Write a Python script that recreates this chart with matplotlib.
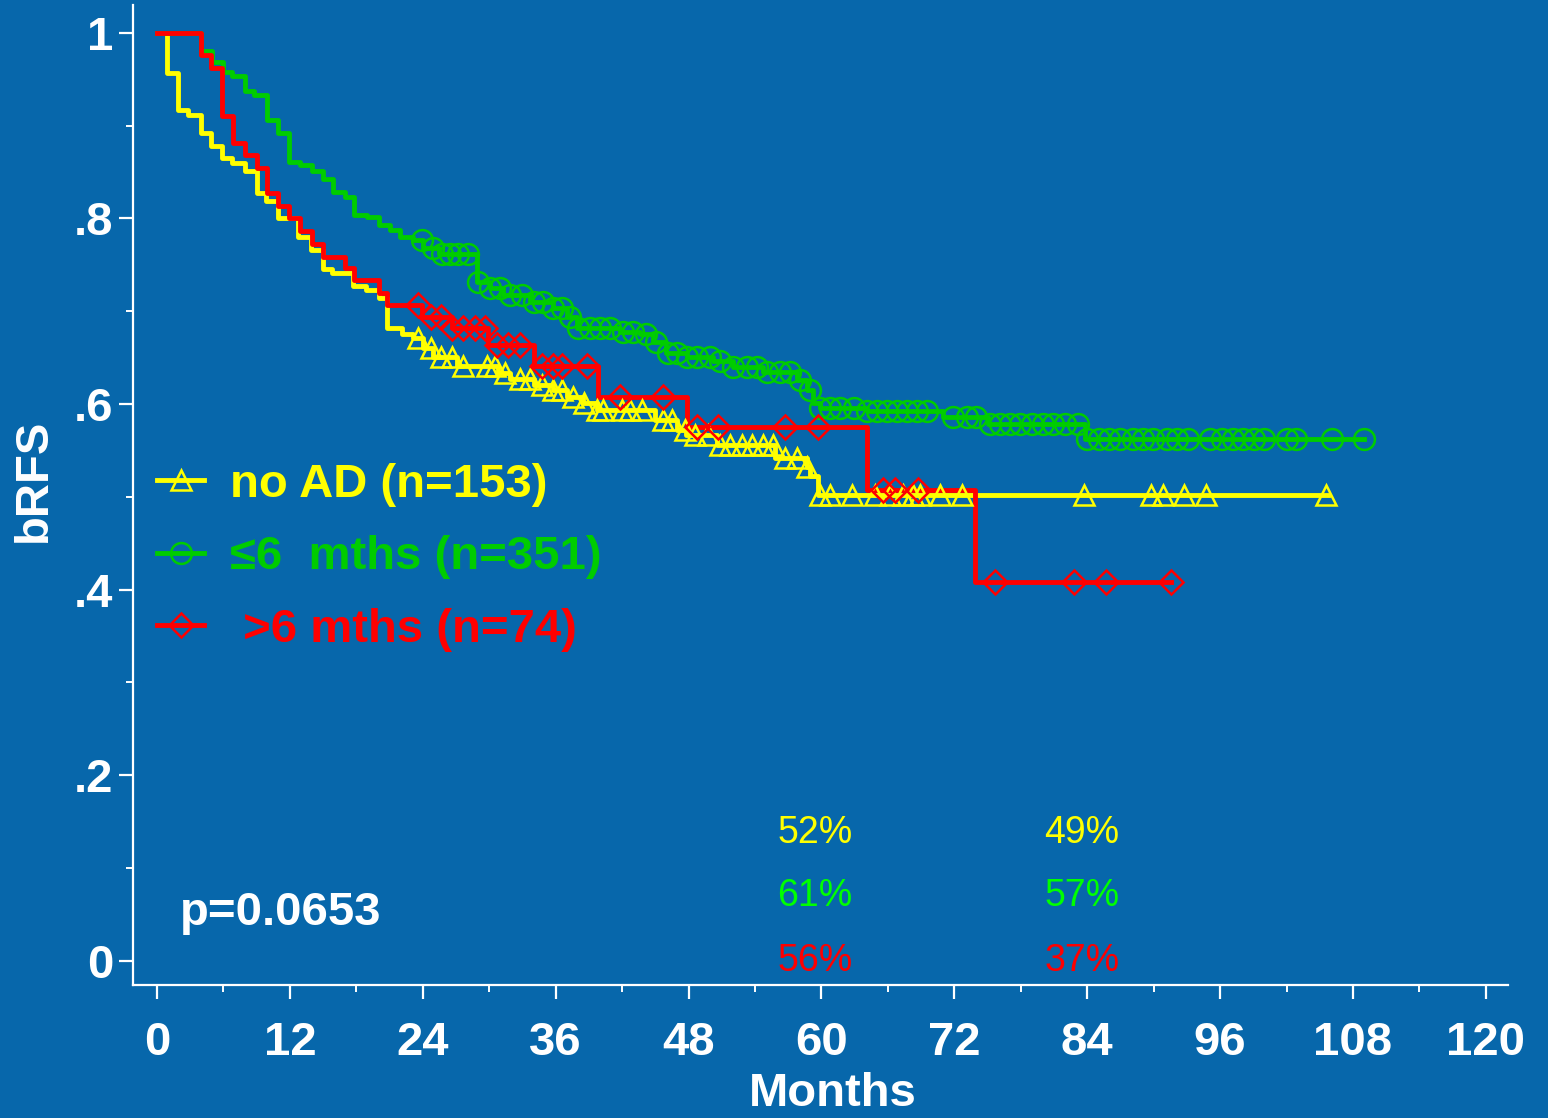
import numpy as np
import matplotlib
matplotlib.use('Agg')
import matplotlib.pyplot as plt
from matplotlib.lines import Line2D
from matplotlib.ticker import FixedLocator

plt.rcParams['font.family'] = ['Liberation Sans', 'DejaVu Sans']

BG = '#0767AB'
YEL = '#FFFF00'
GRN = '#00CC00'
RED = '#FF0000'
WHITE = '#FFFFFF'

# ---------------- data (months, survival) ----------------
# no AD (n=153)
noad_t = [0.9, 1.9, 2.8, 4.0, 4.9, 5.9, 6.8, 7.9, 9.0, 9.8, 10.9, 12.7, 13.9, 15.0, 15.8,
          17.7, 18.9, 20.0, 20.8, 22.1, 23.1, 24.0, 24.9, 27.1, 30.8, 31.9, 34.0, 35.8,
          37.0, 38.5, 39.7, 45.0, 47.0, 47.8, 50.6, 55.8, 58.7, 59.0, 59.7]
noad_s = [0.957, 0.917, 0.912, 0.892, 0.878, 0.865, 0.860, 0.851, 0.827, 0.819, 0.800,
          0.780, 0.766, 0.745, 0.741, 0.727, 0.723, 0.714, 0.682, 0.675, 0.671, 0.660,
          0.651, 0.641, 0.634, 0.627, 0.621, 0.615, 0.608, 0.601, 0.594, 0.583, 0.572,
          0.567, 0.556, 0.542, 0.532, 0.522, 0.502]
noad_end = 105.7
noad_cens = [23.6, 24.7, 25.6, 26.6, 27.6, 29.8, 30.5, 31.4, 32.8, 33.7, 34.8, 35.8, 36.6,
             37.6, 38.6, 39.7, 40.3, 42.0, 42.7, 43.8, 45.7, 46.5, 47.7, 48.6, 49.8, 50.8,
             51.7, 52.8, 53.7, 54.7, 55.6, 56.7, 57.8, 58.7, 59.9, 60.8, 62.8, 64.8, 66.2,
             67.4, 68.3, 68.9, 70.7, 72.7, 83.7, 89.8, 90.8, 92.7, 94.7, 105.6]

# <=6 mths (n=351)
le6_t = [4.0, 5.0, 6.0, 6.8, 7.9, 8.8, 9.9, 10.9, 11.9, 12.9, 14.0, 15.0, 15.9, 17.0, 17.8,
         19.0, 20.0, 21.0, 21.9, 23.1, 24.0, 25.5, 28.9, 30.1, 31.2, 33.7, 35.8, 37.0,
         37.9, 41.8, 43.6, 44.8, 46.0, 47.9, 50.2, 52.0, 54.7, 57.8, 58.7, 59.2, 59.9,
         64.1, 71.0, 75.0, 83.8]
le6_s = [0.980, 0.969, 0.958, 0.953, 0.937, 0.933, 0.906, 0.892, 0.861, 0.858, 0.851,
         0.842, 0.829, 0.823, 0.804, 0.802, 0.793, 0.788, 0.780, 0.777, 0.768, 0.762,
         0.732, 0.725, 0.718, 0.710, 0.703, 0.694, 0.682, 0.678, 0.675, 0.667, 0.655,
         0.651, 0.646, 0.640, 0.635, 0.626, 0.615, 0.601, 0.596, 0.592, 0.586, 0.578,
         0.5625]
le6_end = 109.0
le6_cens = [23.9, 24.9, 25.7, 26.5, 27.2, 28.1, 29.0, 30.1, 31.0, 31.9, 33.0, 34.0, 34.9,
            35.8, 36.6, 37.3, 38.0, 39.1, 40.0, 40.9, 42.1, 43.0, 44.2, 45.1, 46.1, 47.0,
            47.9, 48.8, 49.9, 50.8, 52.0, 53.3, 54.2, 55.1, 56.3, 57.2, 58.1, 59.0, 59.9,
            60.8, 61.7, 62.9, 64.1, 65.0, 65.9, 66.8, 67.7, 68.6, 69.5, 71.9, 73.1, 74.0,
            75.2, 76.1, 77.0, 77.9, 79.0, 80.0, 80.9, 82.0, 83.2, 84.0, 85.1, 86.0, 87.0,
            88.1, 89.0, 89.9, 91.2, 92.1, 93.1, 95.1, 96.2, 97.2, 98.1, 99.1, 100.0, 102.0,
            102.9, 106.1, 109.0]

# >6 mths (n=74)
gt6_t = [4.0, 4.9, 5.9, 6.9, 7.9, 9.0, 9.9, 10.9, 11.9, 12.9, 14.0, 15.0, 17.0, 17.8,
         20.0, 20.8, 23.9, 26.6, 29.9, 34.0, 39.8, 47.9, 64.1, 73.9]
gt6_s = [0.976, 0.962, 0.910, 0.881, 0.868, 0.854, 0.827, 0.813, 0.800, 0.786, 0.772,
         0.758, 0.747, 0.734, 0.720, 0.707, 0.694, 0.682, 0.664, 0.641, 0.608, 0.575,
         0.507, 0.408]
gt6_end = 91.6
gt6_cens = [23.6, 24.7, 25.6, 26.6, 27.6, 28.7, 29.6, 30.7, 31.7, 32.8, 34.8, 35.8, 36.6,
            38.8, 41.8, 45.7, 48.8, 50.7, 56.7, 59.7, 65.6, 66.6, 68.7, 75.7, 82.8, 85.7,
            91.6]

labels = ['no AD (n=153)', '\u22646  mths (n=351)', ' >6 mths (n=74)']
pct_cols = [59.4, 83.5]
pct_rows_y = [0.138, 0.070, 0.000]
pct_text = [['52%', '49%'], ['61%', '57%'], ['56%', '37%']]
pct_colors = [YEL, '#00FF00', RED]
p_text = 'p=0.0653'

# ---------------- figure ----------------
fig = plt.figure(figsize=(15.48, 11.18), dpi=100, facecolor=BG)
ax = fig.add_axes([133 / 1548, (1118 - 985) / 1118, 1375 / 1548, 980 / 1118])
ax.set_facecolor(BG)
ax.set_xlim(-2.17, 122)
ax.set_ylim(-0.026, 1.03)

series = [
    (noad_t, noad_s, noad_end, noad_cens, YEL, '^', 15),
    (le6_t, le6_s, le6_end, le6_cens, GRN, 'o', 15),
    (gt6_t, gt6_s, gt6_end, gt6_cens, RED, 'D', 12),
]
handles = []
for t, s, end, cens, col, mk, ms in series:
    tt = np.array([0.0] + list(t) + [end])
    ss = np.array([1.0] + list(s) + [s[-1]])
    ax.step(tt, ss, where='post', color=col, lw=3.5, zorder=3)
    c = np.array(cens)
    idx = np.searchsorted(tt, c, side='right') - 1
    ax.plot(c, ss[idx], ls='none', marker=mk, ms=ms, mfc='none', mec=col, mew=1.8,
            zorder=4)
    handles.append(Line2D([], [], color=col, lw=3.5, marker=mk, ms=ms, mfc='none',
                          mec=col, mew=1.8))

leg = ax.legend(handles, labels, loc='upper left', frameon=False,
                bbox_to_anchor=(157 / 1548, 1 - 463 / 1118),
                bbox_transform=fig.transFigure, borderpad=0, borderaxespad=0,
                handlelength=1.0, handletextpad=0.55, labelspacing=0.6,
                numpoints=1, prop={'size': 34, 'weight': 'bold'})
for txt, col in zip(leg.get_texts(), [YEL, GRN, RED]):
    txt.set_color(col)

# percentages
for row, y in enumerate(pct_rows_y):
    for ci, x in enumerate(pct_cols):
        ax.text(x, y, pct_text[row][ci], color=pct_colors[row], fontsize=27,
                ha='center', va='center')

ax.text(2.1, 0.052, p_text, color=WHITE, fontsize=34, fontweight='bold',
        ha='left', va='center')

# axes styling
for side in ['top', 'right']:
    ax.spines[side].set_visible(False)
for side in ['left', 'bottom']:
    ax.spines[side].set_color(WHITE)
    ax.spines[side].set_linewidth(1.6)

ax.set_xticks(np.arange(0, 121, 12))
ax.set_xticklabels([str(v) for v in range(0, 121, 12)])
ax.xaxis.set_minor_locator(FixedLocator(np.arange(6, 121, 12)))
ax.set_yticks([0, 0.2, 0.4, 0.6, 0.8, 1.0])
ax.set_yticklabels(['0', '.2', '.4', '.6', '.8', '1'])
ax.yaxis.set_minor_locator(FixedLocator([0.1, 0.3, 0.5, 0.7, 0.9]))
ax.tick_params(axis='both', which='major', colors=WHITE, length=10, width=1.6,
               labelsize=34, direction='out')
ax.tick_params(axis='both', which='minor', colors=WHITE, length=5, width=1.4,
               direction='out')
ax.tick_params(axis='x', which='major', pad=16)
ax.tick_params(axis='y', which='major', pad=4)
for lab in ax.get_xticklabels() + ax.get_yticklabels():
    lab.set_fontweight('bold')

ax.set_xlabel('Months', color=WHITE, fontsize=34, fontweight='bold')
ax.set_ylabel('bRFS', color=WHITE, fontsize=34, fontweight='bold')
ax.xaxis.set_label_coords((833 - 133) / 1375, (985 - 1072) / 980)
ax.yaxis.set_label_coords((56 - 133) / 1375, (985 - 480) / 980)

fig.savefig('out.png', dpi=100, facecolor=BG)
